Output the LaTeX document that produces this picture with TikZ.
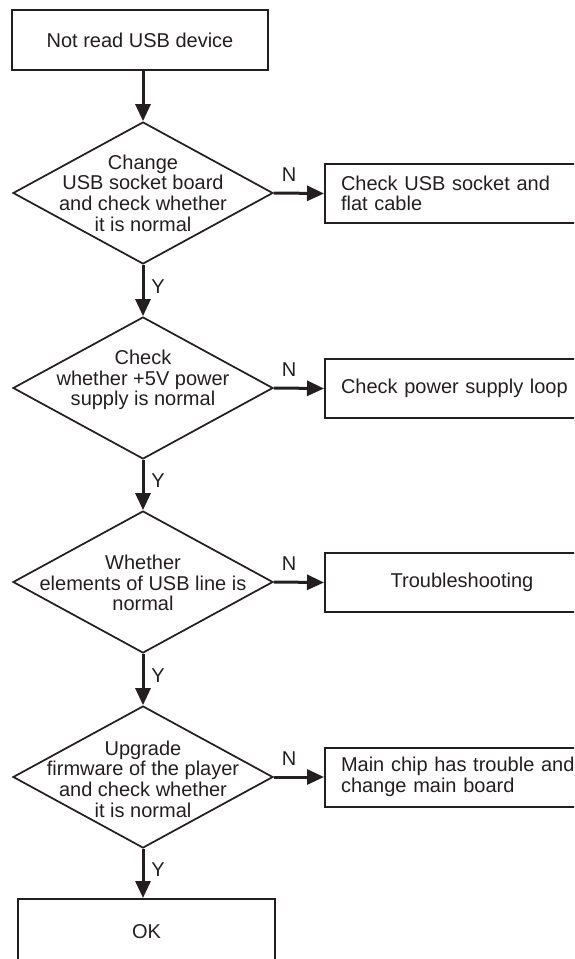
\documentclass[tikz,border=0pt]{standalone}
\usepackage{fontspec}
\setmainfont{Liberation Sans}
\usetikzlibrary{shapes.geometric,arrows.meta}
\definecolor{ink}{RGB}{35,31,32}
\begin{document}
\begin{tikzpicture}[x=0.75pt,y=-0.75pt,
  every node/.style={text=ink,font=\fontsize{15}{15.5}\selectfont},
  startbox/.style={draw=ink,line width=1.5pt,rectangle,minimum width=192pt,minimum height=45pt,inner sep=0pt},
  decision/.style={draw=ink,line width=1.3pt,diamond,minimum width=195pt,minimum height=106.5pt,inner sep=0pt},
  dtext/.style={align=center,inner sep=0pt},
  actbox/.style={draw=ink,line width=1.5pt,rectangle,minimum width=205.5pt,minimum height=44.25pt,
    text width=181.5pt,inner xsep=12pt,inner ysep=0pt,align=left},
  endbox/.style={draw=ink,line width=1.5pt,rectangle,minimum width=192.75pt,minimum height=49.5pt,inner sep=0pt},
  flow/.style={draw=ink,line width=2.25pt,-{Triangle[length=12.75pt,width=11.25pt]}},
  tag/.style={inner sep=0pt}]
\useasboundingbox (0,0) rectangle (574,959);
\clip (0,0) rectangle (574,959);

% start
\node[startbox] (start) at (140,40) {Not read USB device};

% decisions
\node[decision] (d1) at (143,193) {};
\node[dtext] (d1t) at (143,193) {Change\\USB socket board\\and check whether\\it is normal};
\node[decision] (d2) at (143,388) {};
\node[dtext] (d2t) at (143,380) {Check\\whether +5V power\\supply is normal};
\node[decision] (d3) at (143,582) {};
\node[dtext] (d3t) at (143,583) {Whether\\elements of USB line is\\normal};
\node[decision] (d4) at (143,777) {};
\node[dtext] (d4t) at (143,779) {Upgrade\\firmware of the player\\and check whether\\it is normal};

% actions for the N branches
\node[actbox,anchor=west] (a1) at (324,193.5) {Check USB socket and\\flat cable};
\node[actbox,anchor=west] (a2) at (324,388.5) {Check power supply loop};
\node[actbox,anchor=west,align=center] (a3) at (324,582.5) {Troubleshooting};
\node[actbox,anchor=west] (a4) at (324,777) {Main chip has trouble and\\change main board};

% end
\node[endbox] (ok) at (146.5,932) {OK};

% vertical flow
\draw[flow] (d1.north |- start.south) -- (d1.north);
\draw[flow] (d1.south) -- (d2.north);
\draw[flow] (d2.south) -- (d3.north);
\draw[flow] (d3.south) -- (d4.north);
\draw[flow] (d4.south) -- (d4.south |- ok.north);

% N branches
\draw[flow] (d1.east) -- (a1.west);
\draw[flow] (d2.east) -- (a2.west);
\draw[flow] (d3.east) -- (a3.west);
\draw[flow] (d4.east) -- (a4.west);

% branch labels
\node[tag] (n1) at (289,175) {N};
\node[tag] (n2) at (289,370) {N};
\node[tag] (n3) at (289,564) {N};
\node[tag] (n4) at (289,759) {N};
\node[tag] (y1) at (158,287) {Y};
\node[tag] (y2) at (158,481) {Y};
\node[tag] (y3) at (158,676) {Y};
\node[tag] (y4) at (158,870) {Y};
\end{tikzpicture}
\end{document}
